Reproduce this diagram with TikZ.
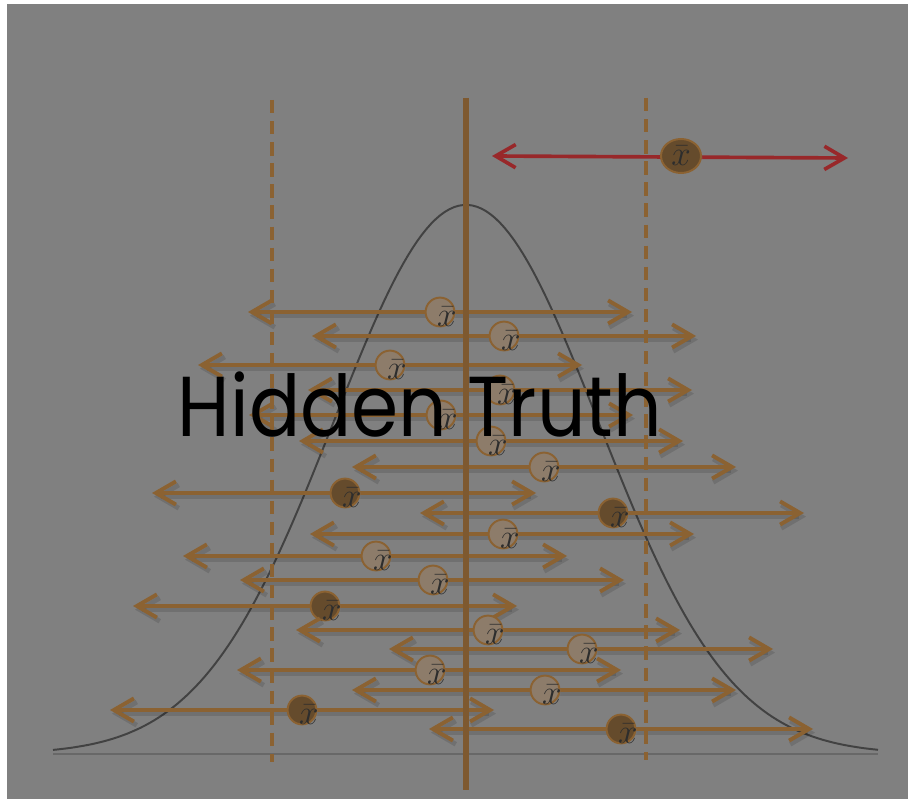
\documentclass[tikz,border=0pt]{standalone}
\usepackage{fontspec}
\newfontfamily\titlefont{Poppins}
\usetikzlibrary{arrows.meta,shapes.geometric,shadows}

\definecolor{slate}{RGB}{128,128,128}
\definecolor{ciline}{RGB}{139,98,50}
\definecolor{truthline}{RGB}{126,89,48}
\definecolor{lightfill}{RGB}{141,124,106}
\definecolor{darkfill}{RGB}{101,75,44}
\definecolor{redline}{RGB}{152,40,42}
\definecolor{bellgray}{RGB}{66,66,66}
\definecolor{xbarink}{RGB}{45,45,45}

\tikzset{
  barb/.tip={Straight Barb[length=0.5cm,width=0.58cm]},
  ci/.style={draw=ciline, line width=2.8pt, barb-barb,
    preaction={draw=black, opacity=0.12, line width=3.4pt,
      transform canvas={shift={(0.05cm,-0.09cm)}}}},
  redci/.style={draw=redline, line width=2.6pt, barb-barb},
  meanshape/.style={circle, draw=ciline, line width=1.4pt, minimum size=0.72cm,
    inner sep=0pt, drop shadow={opacity=0.22, shadow xshift=0.04cm, shadow yshift=-0.07cm}},
  mean/.style={meanshape, label={[xbar]center:$\bar{x}$}},
  xbar/.style={xshift=0.17cm, yshift=-0.11cm, text=xbarink, font=\fontsize{23}{23}\selectfont},
  lightmean/.style={mean, fill=lightfill},
  darkmean/.style={mean, fill=darkfill},
  bell/.style={draw=bellgray, line width=1.4pt},
  limit/.style={draw=ciline, line width=2.5pt, dash pattern=on 9.5pt off 5.5pt},
}

\begin{document}
\begin{tikzpicture}[x=0.025cm, y=-0.025cm]
  \useasboundingbox (0,0) rectangle (908,799);
  \fill[white] (0,0) rectangle (908,799);
  \fill[slate] (7,4) rectangle (908,799);

  % sampling distribution
  \coordinate (base l) at (53,754);
  \coordinate (base r) at (878,754);
  \draw[bell, line width=1pt, draw=bellgray!80] (base l) -- (base r);
  \draw[bell] plot[domain=53:878, samples=180] (\x, {754-549*exp(-0.5*((\x-466)/132)^2)});

  % one interval per sample
  \coordinate (l1) at (248,312); \coordinate (r1) at (632,312); \draw[ci] (l1) -- (r1); \node[lightmean] (m1) at (440,312) {};
  \coordinate (l2) at (312,336); \coordinate (r2) at (696,336); \draw[ci] (l2) -- (r2); \node[lightmean] (m2) at (504,336) {};
  \coordinate (l3) at (198,365); \coordinate (r3) at (582,365); \draw[ci] (l3) -- (r3); \node[lightmean] (m3) at (390,365) {};
  \coordinate (l4) at (308,390); \coordinate (r4) at (692,390); \draw[ci] (l4) -- (r4); \node[lightmean] (m4) at (500,390) {};
  \coordinate (l5) at (249,415); \coordinate (r5) at (633,415); \draw[ci] (l5) -- (r5); \node[lightmean] (m5) at (441,415) {};
  \coordinate (l6) at (299,441); \coordinate (r6) at (683,441); \draw[ci] (l6) -- (r6); \node[lightmean] (m6) at (491,441) {};
  \coordinate (l7) at (352,467); \coordinate (r7) at (736,467); \draw[ci] (l7) -- (r7); \node[lightmean] (m7) at (544,467) {};
  \coordinate (l8) at (152,493); \coordinate (r8) at (536,493); \draw[ci] (l8) -- (r8); \node[darkmean] (m8) at (345,493) {};
  \coordinate (l9) at (420,513); \coordinate (r9) at (804,513); \draw[ci] (l9) -- (r9); \node[darkmean] (m9) at (613,513) {};
  \coordinate (l10) at (310,534); \coordinate (r10) at (694,534); \draw[ci] (l10) -- (r10); \node[lightmean] (m10) at (503,534) {};
  \coordinate (l11) at (183,556); \coordinate (r11) at (567,556); \draw[ci] (l11) -- (r11); \node[lightmean] (m11) at (376,556) {};
  \coordinate (l12) at (240,580); \coordinate (r12) at (624,580); \draw[ci] (l12) -- (r12); \node[lightmean] (m12) at (433,580) {};
  \coordinate (l13) at (133,606); \coordinate (r13) at (517,606); \draw[ci] (l13) -- (r13); \node[darkmean] (m13) at (325,606) {};
  \coordinate (l14) at (296,630); \coordinate (r14) at (680,630); \draw[ci] (l14) -- (r14); \node[lightmean] (m14) at (488,630) {};
  \coordinate (l15) at (389,649); \coordinate (r15) at (773,649); \draw[ci] (l15) -- (r15); \node[lightmean] (m15) at (582,649) {};
  \coordinate (l16) at (237,670); \coordinate (r16) at (621,670); \draw[ci] (l16) -- (r16); \node[lightmean] (m16) at (430,670) {};
  \coordinate (l17) at (352,690); \coordinate (r17) at (736,690); \draw[ci] (l17) -- (r17); \node[lightmean] (m17) at (545,690) {};
  \coordinate (l18) at (110,710); \coordinate (r18) at (494,710); \draw[ci] (l18) -- (r18); \node[darkmean] (m18) at (302,710) {};
  \coordinate (l19) at (429,729); \coordinate (r19) at (813,729); \draw[ci] (l19) -- (r19); \node[darkmean] (m19) at (621,729) {};

  % the interval that misses
  \coordinate (red l) at (492,156);
  \coordinate (red r) at (848,158);
  \draw[redci] (red l) -- (red r);
  \node[meanshape, ellipse, fill=darkfill, minimum width=1cm, minimum height=0.85cm,
    label={[xbar, xshift=-0.17cm, yshift=0.11cm]center:$\bar{x}$}] (odd) at (681,156) {};

  % true mean and cut-offs
  \coordinate (lo top) at (272,100); \coordinate (lo bot) at (272,762);
  \coordinate (hi top) at (646,98); \coordinate (hi bot) at (646,760);
  \draw[limit] (lo top) -- (lo bot);
  \draw[limit] (hi top) -- (hi bot);
  \coordinate (truth top) at (466,98);
  \coordinate (truth bot) at (466,790);
  \draw[draw=truthline, line width=4.8pt] (truth top) -- (truth bot);

  \node[font=\titlefont\fontsize{54}{54}\selectfont, anchor=base, yscale=1.12, transform shape] (title) at (420,437) {Hidden Truth};
\end{tikzpicture}
\end{document}
